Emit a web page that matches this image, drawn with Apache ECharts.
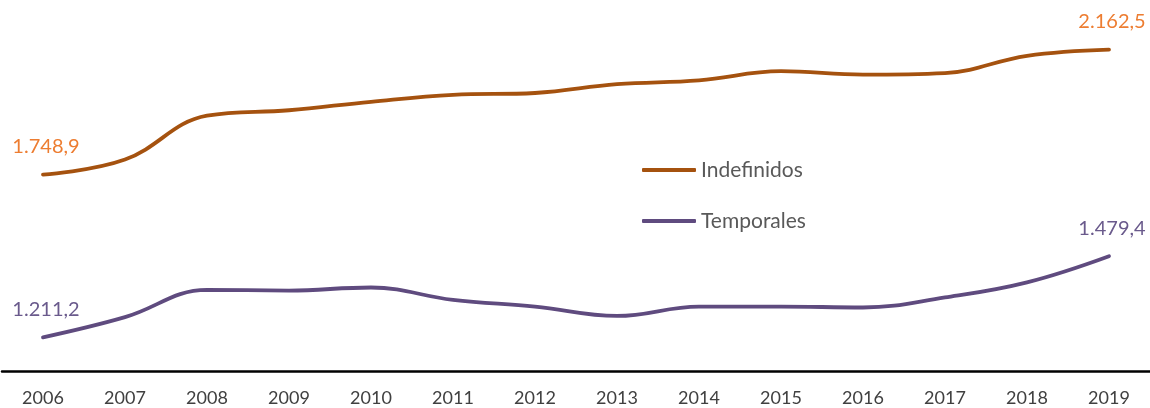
<!DOCTYPE html>
<html>
<head>
<meta charset="utf-8">
<script src="https://cdn.jsdelivr.net/npm/echarts@6/dist/echarts.min.js"></script>
<style>
  html, body { margin: 0; padding: 0; background: #ffffff; }
  #chart { width: 1150px; height: 408px; }
</style>
</head>
<body>
<div id="chart"></div>
<script>
// años
const years = ['2006', '2007', '2008', '2009', '2010', '2011', '2012', '2013', '2014', '2015', '2016', '2017', '2018', '2019'];
// miles de contratos
const indefinidos = [1748.9, 1799, 1944, 1962, 1990, 2013, 2019, 2048, 2061, 2091, 2080, 2085, 2142, 2162.5];
const temporales = [1211.2, 1278, 1368, 1366, 1376, 1335, 1313, 1282, 1313, 1313, 1310, 1343, 1393, 1479.4];

const fontFamily = 'Lato, "Open Sans", sans-serif';

// etiqueta solo en el primer y último año
function edgeLabel(value, idx, last) {
  return (idx === 0 || idx === last) ? value.toLocaleString('de-DE', {minimumFractionDigits: 1, maximumFractionDigits: 1}) : '';
}

const myChart = echarts.init(document.getElementById('chart'));
const option = {
  animation: false,
  grid: { left: 2, right: 0, top: 8, bottom: 37 },
  legend: {
    orient: 'vertical',
    left: 642,
    top: 159,
    padding: 0,
    icon: 'roundRect',
    itemWidth: 54,
    itemHeight: 4,
    itemGap: 29,
    textStyle: { fontFamily: fontFamily, fontSize: 21, lineHeight: 22, color: '#595959' },
    data: ['Indefinidos', 'Temporales']
  },
  xAxis: {
    type: 'category',
    data: years,
    boundaryGap: true,
    axisLine: { lineStyle: { color: '#000000', width: 2.5 } },
    axisTick: { show: false },
    axisLabel: { fontFamily: fontFamily, fontSize: 18, color: '#404040', margin: 18 }
  },
  yAxis: {
    type: 'value',
    min: 1100,
    max: 2300,
    show: false,
    splitLine: { show: false }
  },
  series: [
    {
      name: 'Indefinidos',
      type: 'line',
      data: indefinidos,
      smooth: 0.4,
      symbol: 'circle',
      symbolSize: 0,
      lineStyle: { color: '#A5520F', width: 3.8, cap: 'round' },
      itemStyle: { color: '#A5520F' },
      label: {
        show: true,
        position: 'top',
        distance: 18,
        offset: [3, 0],
        fontFamily: fontFamily,
        fontSize: 20,
        color: '#ED7D31',
        formatter: p => edgeLabel(p.value, p.dataIndex, indefinidos.length - 1)
      }
    },
    {
      name: 'Temporales',
      type: 'line',
      data: temporales,
      smooth: 0.4,
      symbol: 'circle',
      symbolSize: 0,
      lineStyle: { color: '#5F4B7F', width: 3.8, cap: 'round' },
      itemStyle: { color: '#5F4B7F' },
      label: {
        show: true,
        position: 'top',
        distance: 18,
        offset: [3, 0],
        fontFamily: fontFamily,
        fontSize: 20,
        color: '#6A5A8C',
        formatter: p => edgeLabel(p.value, p.dataIndex, temporales.length - 1)
      }
    }
  ]
};
myChart.setOption(option);
</script>
</body>
</html>
